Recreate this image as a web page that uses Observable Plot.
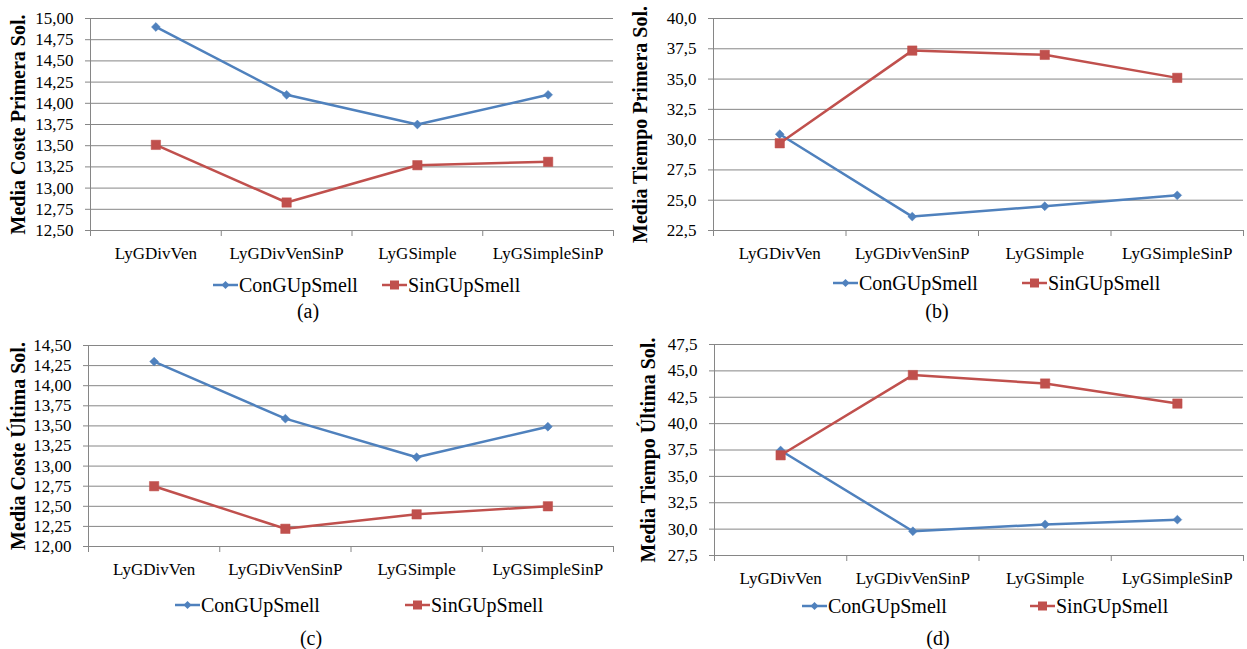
<!DOCTYPE html>
<html><head><meta charset="utf-8">
<script src="https://cdn.jsdelivr.net/npm/d3@7"></script>
<script src="https://cdn.jsdelivr.net/npm/@observablehq/plot@0.6"></script>
<style>
body{margin:0;background:#fff;}
#root{position:relative;width:1247px;height:649px;overflow:hidden;background:#fff;font-family:'Liberation Serif','DejaVu Serif',serif;color:#000;}
.panel{position:absolute;}
.legitem{position:absolute;display:flex;align-items:center;font-size:20px;white-space:nowrap;transform:translateY(-50%);line-height:1;}
.legitem svg{display:block;margin-right:1px;}
.caption{position:absolute;font-size:20px;transform:translate(-50%,-50%);line-height:1;}
</style></head><body><div id="root"></div>
<script>
const categories = ["LyGDivVen", "LyGDivVenSinP", "LyGSimple", "LyGSimpleSinP"];
const seriesNames = ["ConGUpSmell", "SinGUpSmell"];
const seriesColors = ["#4F81BD", "#C0504D"];

const costePrimeraCon = [14.90, 14.10, 13.75, 14.10];
const costePrimeraSin = [13.51, 12.83, 13.27, 13.31];
const tiempoPrimeraCon = [30.45, 23.65, 24.5, 25.4];
const tiempoPrimeraSin = [29.7, 37.35, 37.0, 35.1];
const costeUltimaCon = [14.30, 13.59, 13.11, 13.49];
const costeUltimaSin = [12.75, 12.22, 12.40, 12.50];
const tiempoUltimaCon = [37.45, 29.8, 30.45, 30.9];
const tiempoUltimaSin = [37.0, 44.6, 43.8, 41.9];

const costePrimeraTicks = [12.50, 12.75, 13.00, 13.25, 13.50, 13.75, 14.00, 14.25, 14.50, 14.75, 15.00];
const tiempoPrimeraTicks = [22.5, 25.0, 27.5, 30.0, 32.5, 35.0, 37.5, 40.0];
const costeUltimaTicks = [12.00, 12.25, 12.50, 12.75, 13.00, 13.25, 13.50, 13.75, 14.00, 14.25, 14.50];
const tiempoUltimaTicks = [27.5, 30.0, 32.5, 35.0, 37.5, 40.0, 42.5, 45.0, 47.5];

const titles = ["Media Coste Primera Sol.", "Media Tiempo Primera Sol.", "Media Coste Última Sol.", "Media Tiempo Última Sol."];
const captions = ["(a)", "(b)", "(c)", "(d)"];

const panels = [
  {series: [costePrimeraCon, costePrimeraSin], ticks: costePrimeraTicks, dec: 2, title: titles[0], caption: captions[0],
   left: 0, top: 0, width: 620, height: 268, mL: 90, mR: 7, mT: 18, mB: 38, titleDx: -72,
   legY: 285, legX: [213, 382], capX: 308, capY: 311},
  {series: [tiempoPrimeraCon, tiempoPrimeraSin], ticks: tiempoPrimeraTicks, dec: 1, title: titles[1], caption: captions[1],
   left: 620, top: 0, width: 627, height: 268, mL: 93, mR: 4, mT: 18, mB: 38, titleDx: -73,
   legY: 283, legX: [833, 1022], capX: 937, capY: 311},
  {series: [costeUltimaCon, costeUltimaSin], ticks: costeUltimaTicks, dec: 2, title: titles[2], caption: captions[2],
   left: 0, top: 325, width: 620, height: 260, mL: 88, mR: 7, mT: 20, mB: 39, titleDx: -70,
   legY: 605, legX: [175, 405], capX: 311, capY: 638},
  {series: [tiempoUltimaCon, tiempoUltimaSin], ticks: tiempoUltimaTicks, dec: 1, title: titles[3], caption: captions[3],
   left: 620, top: 325, width: 627, height: 270, mL: 94, mR: 4, mT: 19, mB: 40, titleDx: -66,
   legY: 606, legX: [802, 1030], capX: 938, capY: 638}
];

const root = document.getElementById("root");
const gridColor = "#868686";
const fontFamily = "'Liberation Serif','DejaVu Serif',serif";

function swatch(k) {
  const ns = "http://www.w3.org/2000/svg";
  const svg = document.createElementNS(ns, "svg");
  svg.setAttribute("width", 25); svg.setAttribute("height", 12);
  const line = document.createElementNS(ns, "line");
  line.setAttribute("x1", 0); line.setAttribute("x2", 25); line.setAttribute("y1", 6); line.setAttribute("y2", 6);
  line.setAttribute("stroke", seriesColors[k]); line.setAttribute("stroke-width", 2.5);
  svg.appendChild(line);
  const m = document.createElementNS(ns, "path");
  m.setAttribute("d", k === 0 ? "M12.5,2L16.5,6L12.5,10L8.5,6Z" : "M8,1.5H17V10.5H8Z");
  m.setAttribute("fill", seriesColors[k]);
  svg.appendChild(m);
  return svg;
}

panels.forEach(p => {
  const data = [];
  p.series.forEach((vals, s) => vals.forEach((v, i) => data.push({i, v, s: seriesNames[s]})));
  const fmt = v => v.toFixed(p.dec).replace(".", ",");
  const centers = categories.map((_, i) => i);
  const bounds = categories.map((_, i) => i - 0.5).concat([categories.length - 0.5]);
  const chart = Plot.plot({
    width: p.width, height: p.height,
    marginLeft: p.mL, marginRight: p.mR, marginTop: p.mT, marginBottom: p.mB,
    style: {fontFamily, fontSize: "17px", color: "#000", background: "transparent", overflow: "visible"},
    x: {type: "linear", domain: [-0.5, categories.length - 0.5]},
    y: {domain: [d3.min(p.ticks), d3.max(p.ticks)]},
    color: {domain: seriesNames, range: seriesColors},
    marks: [
      Plot.gridY(p.ticks, {stroke: gridColor, strokeOpacity: 1, strokeWidth: 1}),
      Plot.ruleX([-0.5], {stroke: gridColor, strokeWidth: 1}),
      Plot.axisY(p.ticks, {tickFormat: fmt, tickSize: 5, tickPadding: 12, stroke: gridColor, label: null}),
      Plot.axisX(bounds, {tickSize: 6, tickFormat: () => "", stroke: gridColor, label: null}),
      Plot.axisX(centers, {tickSize: 0, tickPadding: 16, tickFormat: i => categories[i], label: null}),
      Plot.line(data, {x: "i", y: "v", z: "s", stroke: "s", strokeWidth: 2.5}),
      Plot.dot(data.filter(d => d.s === seriesNames[0]), {x: "i", y: "v", fill: "s", stroke: "s", strokeWidth: 0.5, symbol: "diamond2", r: 4}),
      Plot.dot(data.filter(d => d.s === seriesNames[1]), {x: "i", y: "v", fill: "s", stroke: "s", strokeWidth: 0.5, symbol: "square", r: 5.3}),
      Plot.text([p.title], {frameAnchor: "left", textAnchor: "middle", rotate: -90, dx: p.titleDx, fontWeight: "bold", fontSize: 20, fill: "#000"})
    ]
  });
  const wrap = document.createElement("div");
  wrap.className = "panel";
  wrap.style.left = p.left + "px";
  wrap.style.top = p.top + "px";
  wrap.appendChild(chart);
  root.appendChild(wrap);

  seriesNames.forEach((name, k) => {
    const item = document.createElement("div");
    item.className = "legitem";
    item.style.left = p.legX[k] + "px";
    item.style.top = p.legY + "px";
    item.appendChild(swatch(k));
    const span = document.createElement("span");
    span.textContent = name;
    item.appendChild(span);
    root.appendChild(item);
  });

  const cap = document.createElement("div");
  cap.className = "caption";
  cap.style.left = p.capX + "px";
  cap.style.top = p.capY + "px";
  cap.textContent = p.caption;
  root.appendChild(cap);
});
</script></body></html>
